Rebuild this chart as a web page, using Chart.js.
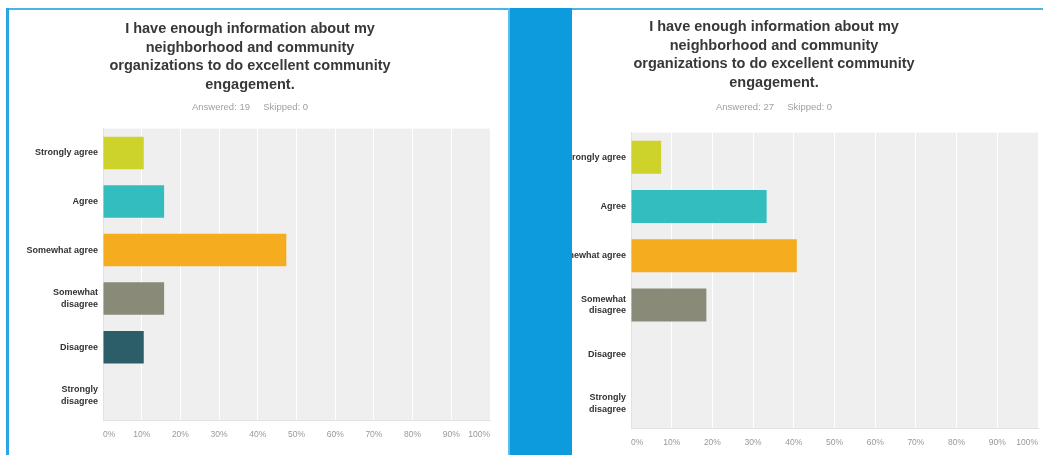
<!DOCTYPE html>
<html>
<head>
<meta charset="utf-8">
<script src="https://cdn.jsdelivr.net/npm/chart.js@4.4.1/dist/chart.umd.min.js"></script>
<style>
  body { margin:0; width:1043px; height:455px; background:#fff; overflow:hidden; position:relative; }
  .topline { position:absolute; left:6px; top:8px; width:1037px; height:2px; background:#4ab4e8; }
  .leftline { position:absolute; left:6px; top:8px; width:3px; height:447px; background:#2aa6e3; }
  .divider { position:absolute; left:508px; top:8px; width:64px; height:447px; background:#0e9bde; border-left:2px solid #5cbde9; box-sizing:border-box; z-index:5; }
  #left { position:absolute; left:10px; top:10px; }
  #right { position:absolute; left:510px; top:10px; }
</style>
</head>
<body>
<div class="topline"></div>
<div class="leftline"></div>
<div class="divider"></div>
<canvas id="left" width="482" height="445"></canvas>
<canvas id="right" width="530" height="445"></canvas>
<script>
const titleLines = ['I have enough information about my', 'neighborhood and community',
  'organizations to do excellent community', 'engagement.'];
const categories = ['Strongly agree', 'Agree', 'Somewhat agree', ['Somewhat', 'disagree'], 'Disagree', ['Strongly', 'disagree']];
const barColors = ['#cdd32a', '#34bdbf', '#f5ad1f', '#898a78', '#2c5e69', '#999999'];
const xTicks = [0, 10, 20, 30, 40, 50, 60, 70, 80, 90, 100];

// percent of respondents
const leftValues = [10.53, 15.79, 47.37, 15.79, 10.53, 0];   // answered 19
const rightValues = [7.41, 33.33, 40.74, 18.52, 0, 0];       // answered 27
const leftAnswered = 19;
const rightAnswered = 27;

const plotBg = {
  id: 'plotBg',
  beforeDraw(chart) {
    const {ctx, chartArea: a} = chart;
    ctx.save();
    ctx.fillStyle = '#efefef';
    ctx.fillRect(a.left, a.top, a.width, a.height);
    ctx.restore();
  }
};

const font = 'Liberation Sans, Arial, sans-serif';

function makeChart(id, values, answered, o) {
  new Chart(document.getElementById(id), {
    type: 'bar',
    data: {
      labels: categories,
      datasets: [{
        data: values,
        backgroundColor: barColors,
        barPercentage: 0.67,
        categoryPercentage: 1
      }]
    },
    plugins: [plotBg],
    options: {
      indexAxis: 'y',
      responsive: false,
      animation: false,
      layout: { padding: { top: 0, right: o.padRight, bottom: o.padBottom, left: 0 } },
      plugins: {
        legend: { display: false },
        tooltip: { enabled: false },
        title: {
          display: true,
          text: titleLines,
          color: '#383838',
          font: { family: font, size: 14.5, weight: 'bold', lineHeight: 1.28 },
          padding: { top: o.titleTop, bottom: o.titleBottom }
        },
        subtitle: {
          display: true,
          text: 'Answered: ' + answered + '     Skipped: 0',
          color: '#a0a0a0',
          font: { family: font, size: 9.5, lineHeight: 1.2 },
          padding: { top: 0, bottom: o.subBottom }
        }
      },
      scales: {
        x: {
          min: 0,
          max: 100,
          afterBuildTicks: s => { s.ticks = xTicks.map(v => ({ value: v })); },
          afterFit: s => { s.height = 20; s.paddingLeft = 0; s.paddingRight = 0; },
          ticks: {
            callback: v => v + '%',
            align: 'inner',
            color: '#999',
            padding: 10,
            maxRotation: 0,
            autoSkip: false,
            font: { family: font, size: 8.5 }
          },
          grid: { color: '#ffffff', lineWidth: 1, drawTicks: false },
          border: { display: true, color: '#e2e2e2' }
        },
        y: {
          afterFit: s => { s.width = o.yWidth; },
          ticks: {
            color: '#333',
            padding: 5,
            font: { family: font, size: 9, weight: 'bold', lineHeight: 1.3 }
          },
          grid: { display: false, drawTicks: false },
          border: { display: true, color: '#e2e2e2' }
        }
      }
    }
  });
}

makeChart('left', leftValues, leftAnswered,
  { padRight: 2, padBottom: 15, titleTop: 10, titleBottom: 7, subBottom: 16, yWidth: 93 });
makeChart('right', rightValues, rightAnswered,
  { padRight: 2, padBottom: 7, titleTop: 8, titleBottom: 9, subBottom: 20, yWidth: 121 });
</script>
</body>
</html>
